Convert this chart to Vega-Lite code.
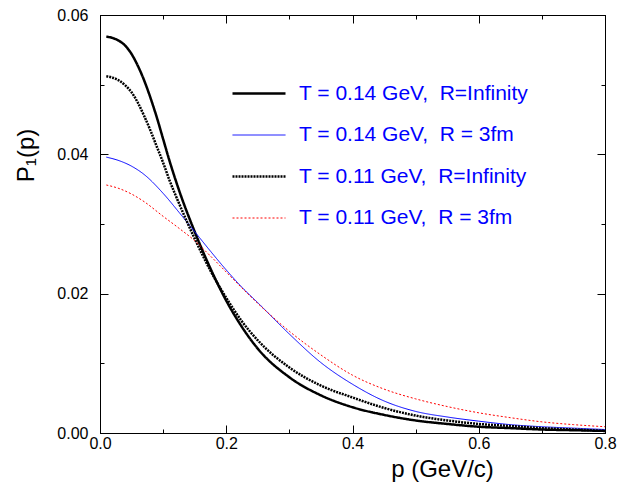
{
  "$schema": "https://vega.github.io/schema/vega-lite/v6.json",
  "width": 505,
  "height": 418,
  "autosize": "none",
  "padding": {"left": 100, "top": 15, "right": 28, "bottom": 49},
  "background": "white",
  "config": {
    "view": {"stroke": "black", "strokeWidth": 1},
    "font": "Liberation Sans",
    "axis": {"grid": false, "domainColor": "black", "tickColor": "black", "labelColor": "black", "titleColor": "black", "labelFont": "Liberation Sans", "titleFont": "Liberation Sans", "titleFontWeight": "normal"}
  },
  "data": {"values": [
    {"s": "T = 0.14 GeV, \u00a0R=Infinity", "p": 0.01, "v": 0.0569},
    {"s": "T = 0.14 GeV, \u00a0R=Infinity", "p": 0.02, "v": 0.0567},
    {"s": "T = 0.14 GeV, \u00a0R=Infinity", "p": 0.03, "v": 0.0563},
    {"s": "T = 0.14 GeV, \u00a0R=Infinity", "p": 0.04, "v": 0.0556},
    {"s": "T = 0.14 GeV, \u00a0R=Infinity", "p": 0.05, "v": 0.0544},
    {"s": "T = 0.14 GeV, \u00a0R=Infinity", "p": 0.06, "v": 0.0527},
    {"s": "T = 0.14 GeV, \u00a0R=Infinity", "p": 0.07, "v": 0.0506},
    {"s": "T = 0.14 GeV, \u00a0R=Infinity", "p": 0.08, "v": 0.0481},
    {"s": "T = 0.14 GeV, \u00a0R=Infinity", "p": 0.09, "v": 0.0453},
    {"s": "T = 0.14 GeV, \u00a0R=Infinity", "p": 0.10, "v": 0.0422},
    {"s": "T = 0.14 GeV, \u00a0R=Infinity", "p": 0.11, "v": 0.0391},
    {"s": "T = 0.14 GeV, \u00a0R=Infinity", "p": 0.125, "v": 0.0349},
    {"s": "T = 0.14 GeV, \u00a0R=Infinity", "p": 0.15, "v": 0.0289},
    {"s": "T = 0.14 GeV, \u00a0R=Infinity", "p": 0.175, "v": 0.0236},
    {"s": "T = 0.14 GeV, \u00a0R=Infinity", "p": 0.2, "v": 0.0190},
    {"s": "T = 0.14 GeV, \u00a0R=Infinity", "p": 0.225, "v": 0.0152},
    {"s": "T = 0.14 GeV, \u00a0R=Infinity", "p": 0.25, "v": 0.0121},
    {"s": "T = 0.14 GeV, \u00a0R=Infinity", "p": 0.3, "v": 0.0080},
    {"s": "T = 0.14 GeV, \u00a0R=Infinity", "p": 0.35, "v": 0.0054},
    {"s": "T = 0.14 GeV, \u00a0R=Infinity", "p": 0.4, "v": 0.0037},
    {"s": "T = 0.14 GeV, \u00a0R=Infinity", "p": 0.45, "v": 0.0026},
    {"s": "T = 0.14 GeV, \u00a0R=Infinity", "p": 0.5, "v": 0.0018},
    {"s": "T = 0.14 GeV, \u00a0R=Infinity", "p": 0.55, "v": 0.0013},
    {"s": "T = 0.14 GeV, \u00a0R=Infinity", "p": 0.6, "v": 0.0009},
    {"s": "T = 0.14 GeV, \u00a0R=Infinity", "p": 0.65, "v": 0.0007},
    {"s": "T = 0.14 GeV, \u00a0R=Infinity", "p": 0.7, "v": 0.0005},
    {"s": "T = 0.14 GeV, \u00a0R=Infinity", "p": 0.75, "v": 0.0004},
    {"s": "T = 0.14 GeV, \u00a0R=Infinity", "p": 0.8, "v": 0.0003},

    {"s": "T = 0.14 GeV, \u00a0R = 3fm", "p": 0.01, "v": 0.0396},
    {"s": "T = 0.14 GeV, \u00a0R = 3fm", "p": 0.03, "v": 0.0391},
    {"s": "T = 0.14 GeV, \u00a0R = 3fm", "p": 0.05, "v": 0.0383},
    {"s": "T = 0.14 GeV, \u00a0R = 3fm", "p": 0.07, "v": 0.0371},
    {"s": "T = 0.14 GeV, \u00a0R = 3fm", "p": 0.10, "v": 0.0344},
    {"s": "T = 0.14 GeV, \u00a0R = 3fm", "p": 0.125, "v": 0.0317},
    {"s": "T = 0.14 GeV, \u00a0R = 3fm", "p": 0.15, "v": 0.0289},
    {"s": "T = 0.14 GeV, \u00a0R = 3fm", "p": 0.175, "v": 0.0261},
    {"s": "T = 0.14 GeV, \u00a0R = 3fm", "p": 0.2, "v": 0.0234},
    {"s": "T = 0.14 GeV, \u00a0R = 3fm", "p": 0.225, "v": 0.0209},
    {"s": "T = 0.14 GeV, \u00a0R = 3fm", "p": 0.25, "v": 0.0187},
    {"s": "T = 0.14 GeV, \u00a0R = 3fm", "p": 0.3, "v": 0.0142},
    {"s": "T = 0.14 GeV, \u00a0R = 3fm", "p": 0.35, "v": 0.0101},
    {"s": "T = 0.14 GeV, \u00a0R = 3fm", "p": 0.4, "v": 0.0070},
    {"s": "T = 0.14 GeV, \u00a0R = 3fm", "p": 0.45, "v": 0.0046},
    {"s": "T = 0.14 GeV, \u00a0R = 3fm", "p": 0.5, "v": 0.0031},
    {"s": "T = 0.14 GeV, \u00a0R = 3fm", "p": 0.55, "v": 0.0023},
    {"s": "T = 0.14 GeV, \u00a0R = 3fm", "p": 0.6, "v": 0.0017},
    {"s": "T = 0.14 GeV, \u00a0R = 3fm", "p": 0.65, "v": 0.0012},
    {"s": "T = 0.14 GeV, \u00a0R = 3fm", "p": 0.7, "v": 0.0009},
    {"s": "T = 0.14 GeV, \u00a0R = 3fm", "p": 0.75, "v": 0.0007},
    {"s": "T = 0.14 GeV, \u00a0R = 3fm", "p": 0.8, "v": 0.0005},

    {"s": "T = 0.11 GeV, \u00a0R=Infinity", "p": 0.01, "v": 0.0512},
    {"s": "T = 0.11 GeV, \u00a0R=Infinity", "p": 0.02, "v": 0.0510},
    {"s": "T = 0.11 GeV, \u00a0R=Infinity", "p": 0.03, "v": 0.0506},
    {"s": "T = 0.11 GeV, \u00a0R=Infinity", "p": 0.04, "v": 0.0499},
    {"s": "T = 0.11 GeV, \u00a0R=Infinity", "p": 0.05, "v": 0.0489},
    {"s": "T = 0.11 GeV, \u00a0R=Infinity", "p": 0.06, "v": 0.0474},
    {"s": "T = 0.11 GeV, \u00a0R=Infinity", "p": 0.07, "v": 0.0455},
    {"s": "T = 0.11 GeV, \u00a0R=Infinity", "p": 0.08, "v": 0.0434},
    {"s": "T = 0.11 GeV, \u00a0R=Infinity", "p": 0.09, "v": 0.0411},
    {"s": "T = 0.11 GeV, \u00a0R=Infinity", "p": 0.10, "v": 0.0388},
    {"s": "T = 0.11 GeV, \u00a0R=Infinity", "p": 0.11, "v": 0.0363},
    {"s": "T = 0.11 GeV, \u00a0R=Infinity", "p": 0.125, "v": 0.0330},
    {"s": "T = 0.11 GeV, \u00a0R=Infinity", "p": 0.15, "v": 0.0279},
    {"s": "T = 0.11 GeV, \u00a0R=Infinity", "p": 0.175, "v": 0.0233},
    {"s": "T = 0.11 GeV, \u00a0R=Infinity", "p": 0.2, "v": 0.0194},
    {"s": "T = 0.11 GeV, \u00a0R=Infinity", "p": 0.225, "v": 0.0160},
    {"s": "T = 0.11 GeV, \u00a0R=Infinity", "p": 0.25, "v": 0.0133},
    {"s": "T = 0.11 GeV, \u00a0R=Infinity", "p": 0.3, "v": 0.0094},
    {"s": "T = 0.11 GeV, \u00a0R=Infinity", "p": 0.35, "v": 0.0068},
    {"s": "T = 0.11 GeV, \u00a0R=Infinity", "p": 0.4, "v": 0.0051},
    {"s": "T = 0.11 GeV, \u00a0R=Infinity", "p": 0.45, "v": 0.0036},
    {"s": "T = 0.11 GeV, \u00a0R=Infinity", "p": 0.5, "v": 0.0025},
    {"s": "T = 0.11 GeV, \u00a0R=Infinity", "p": 0.55, "v": 0.0018},
    {"s": "T = 0.11 GeV, \u00a0R=Infinity", "p": 0.6, "v": 0.0013},
    {"s": "T = 0.11 GeV, \u00a0R=Infinity", "p": 0.65, "v": 0.0010},
    {"s": "T = 0.11 GeV, \u00a0R=Infinity", "p": 0.7, "v": 0.0007},
    {"s": "T = 0.11 GeV, \u00a0R=Infinity", "p": 0.75, "v": 0.0005},
    {"s": "T = 0.11 GeV, \u00a0R=Infinity", "p": 0.8, "v": 0.0003},

    {"s": "T = 0.11 GeV, \u00a0R = 3fm", "p": 0.01, "v": 0.0356},
    {"s": "T = 0.11 GeV, \u00a0R = 3fm", "p": 0.03, "v": 0.0351},
    {"s": "T = 0.11 GeV, \u00a0R = 3fm", "p": 0.05, "v": 0.0343},
    {"s": "T = 0.11 GeV, \u00a0R = 3fm", "p": 0.07, "v": 0.0332},
    {"s": "T = 0.11 GeV, \u00a0R = 3fm", "p": 0.10, "v": 0.0311},
    {"s": "T = 0.11 GeV, \u00a0R = 3fm", "p": 0.125, "v": 0.0294},
    {"s": "T = 0.11 GeV, \u00a0R = 3fm", "p": 0.15, "v": 0.0276},
    {"s": "T = 0.11 GeV, \u00a0R = 3fm", "p": 0.175, "v": 0.0254},
    {"s": "T = 0.11 GeV, \u00a0R = 3fm", "p": 0.2, "v": 0.0231},
    {"s": "T = 0.11 GeV, \u00a0R = 3fm", "p": 0.225, "v": 0.0208},
    {"s": "T = 0.11 GeV, \u00a0R = 3fm", "p": 0.25, "v": 0.0186},
    {"s": "T = 0.11 GeV, \u00a0R = 3fm", "p": 0.3, "v": 0.0146},
    {"s": "T = 0.11 GeV, \u00a0R = 3fm", "p": 0.35, "v": 0.0112},
    {"s": "T = 0.11 GeV, \u00a0R = 3fm", "p": 0.4, "v": 0.0083},
    {"s": "T = 0.11 GeV, \u00a0R = 3fm", "p": 0.45, "v": 0.0063},
    {"s": "T = 0.11 GeV, \u00a0R = 3fm", "p": 0.5, "v": 0.0049},
    {"s": "T = 0.11 GeV, \u00a0R = 3fm", "p": 0.55, "v": 0.0038},
    {"s": "T = 0.11 GeV, \u00a0R = 3fm", "p": 0.6, "v": 0.0029},
    {"s": "T = 0.11 GeV, \u00a0R = 3fm", "p": 0.65, "v": 0.0022},
    {"s": "T = 0.11 GeV, \u00a0R = 3fm", "p": 0.7, "v": 0.0016},
    {"s": "T = 0.11 GeV, \u00a0R = 3fm", "p": 0.75, "v": 0.0012},
    {"s": "T = 0.11 GeV, \u00a0R = 3fm", "p": 0.8, "v": 0.0009}
  ]},
  "layer": [
    {
      "mark": {"type": "line", "clip": true, "interpolate": "monotone"},
      "encoding": {
        "x": {"field": "p", "type": "quantitative", "scale": {"domain": [0, 0.8], "nice": false},
          "axis": {"orient": "bottom", "values": [0, 0.1, 0.2, 0.3, 0.4, 0.5, 0.6, 0.7, 0.8], "labelExpr": "round(datum.value*10) % 2 === 1 ? '' : format(datum.value, '.1f')",
            "tickSize": {"condition": {"test": "round(datum.value*10) % 2 === 1", "value": -4}, "value": -8},
            "labelPadding": 10, "labelFontSize": 16, "labelFlush": false,
            "title": "p (GeV/c)", "titleFontSize": 24, "titleX": 342, "titleY": 43, "titleBaseline": "alphabetic", "titleAnchor": "middle", "titleAlign": "center"}},
        "y": {"field": "v", "type": "quantitative", "scale": {"domain": [0, 0.06], "nice": false},
          "axis": {"orient": "left", "values": [0, 0.01, 0.02, 0.03, 0.04, 0.05, 0.06], "labelExpr": "round(datum.value*100) % 2 === 1 ? '' : format(datum.value, '.2f')",
            "tickSize": {"condition": {"test": "round(datum.value*100) % 2 === 1", "value": -4}, "value": -8},
            "labelPadding": 20, "labelFontSize": 16, "labelFlush": false,
            "title": "P₁(p)", "titleFontSize": 24, "titleX": -67, "titleY": 140, "titleAngle": 270, "titleBaseline": "alphabetic", "titleAlign": "center", "titleAnchor": "middle"}},
        "color": {"field": "s", "type": "nominal",
          "scale": {"domain": ["T = 0.14 GeV, \u00a0R=Infinity", "T = 0.14 GeV, \u00a0R = 3fm", "T = 0.11 GeV, \u00a0R=Infinity", "T = 0.11 GeV, \u00a0R = 3fm"], "range": ["#000000", "#0000ff", "#000000", "#ff0000"]},
          "legend": {"title": null, "orient": "none", "legendX": 131, "legendY": 68, "symbolType": "stroke", "symbolSize": 2809, "labelFontSize": 21, "labelColor": "#0000ff", "labelFont": "Liberation Sans", "labelOffset": 12, "clipHeight": 21, "rowPadding": 19.5, "padding": 0, "labelLimit": 400}},
        "strokeDash": {"field": "s", "type": "nominal",
          "scale": {"domain": ["T = 0.14 GeV, \u00a0R=Infinity", "T = 0.14 GeV, \u00a0R = 3fm", "T = 0.11 GeV, \u00a0R=Infinity", "T = 0.11 GeV, \u00a0R = 3fm"], "range": [[1, 0], [1, 0], [2, 1], [2, 2]]}},
        "strokeWidth": {"field": "s", "type": "nominal",
          "scale": {"type": "ordinal", "domain": ["T = 0.14 GeV, \u00a0R=Infinity", "T = 0.14 GeV, \u00a0R = 3fm", "T = 0.11 GeV, \u00a0R=Infinity", "T = 0.11 GeV, \u00a0R = 3fm"], "range": [2.5, 1, 2.5, 1]}}
      }
    },
    {
      "mark": {"type": "line", "opacity": 0},
      "encoding": {
        "x": {"field": "p", "type": "quantitative",
          "axis": {"orient": "top", "values": [0, 0.1, 0.2, 0.3, 0.4, 0.5, 0.6, 0.7, 0.8], "labels": false, "title": null,
            "tickSize": {"condition": {"test": "round(datum.value*10) % 2 === 1", "value": -4}, "value": -8}}},
        "y": {"field": "v", "type": "quantitative",
          "axis": {"orient": "right", "values": [0, 0.01, 0.02, 0.03, 0.04, 0.05, 0.06], "labels": false, "title": null,
            "tickSize": {"condition": {"test": "round(datum.value*100) % 2 === 1", "value": -4}, "value": -8}}},
        "detail": {"field": "s"}
      }
    }
  ],
  "resolve": {"axis": {"x": "independent", "y": "independent"}}
}
